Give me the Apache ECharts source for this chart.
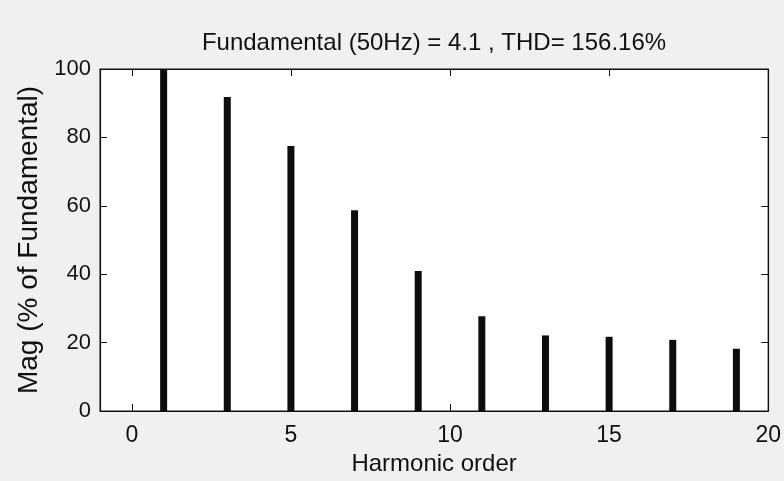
<!DOCTYPE html>
<html>
<head>
<meta charset="utf-8">
<script src="https://cdn.jsdelivr.net/npm/echarts@6/dist/echarts.min.js"></script>
<style>
  html, body { margin: 0; padding: 0; background: #f0f0f0; }
  #chart { width: 784px; height: 481px; }
</style>
</head>
<body>
<div id="chart"></div>
<script>
// harmonic spectrum, % of fundamental
const harmonicOrders = [1, 3, 5, 7, 9, 11, 13, 15, 17, 19]
const magnitudes = [100, 91.8, 77.5, 58.7, 40.9, 27.7, 22.1, 21.7, 20.8, 18.2]
const xTicks = [0, 5, 10, 15, 20]

const font = 'Liberation Sans, Arial, sans-serif'
const chart = echarts.init(document.getElementById('chart'))

const lineCol = '#111'

const boxAxis = (extra) => Object.assign({
  axisLine: { show: true, onZero: false, lineStyle: { color: lineCol, width: 1.2 } },
  axisTick: { show: true, inside: true, length: 7, lineStyle: { color: lineCol } },
  splitLine: { show: false }
}, extra)

const option = {
  backgroundColor: '#f0f0f0',
  animation: false,
  title: {
    text: 'Fundamental (50Hz) = 4.1 , THD= 156.16%',
    left: 429,
    textAlign: 'center',
    top: 26,
    textStyle: { fontFamily: font, fontSize: 24, fontWeight: 'normal', color: lineCol }
  },
  grid: {
    left: 100, right: 14, top: 69, bottom: 70,
    show: true, backgroundColor: '#fff', borderColor: lineCol, borderWidth: 1
  },
  xAxis: [
    boxAxis({
      type: 'value', min: -1, max: 20, position: 'bottom',
      name: 'Harmonic order', nameLocation: 'middle', nameGap: 39,
      nameTextStyle: { fontFamily: font, fontSize: 24, color: lineCol },
      axisTick: { show: true, inside: true, length: 7, customValues: xTicks, lineStyle: { color: lineCol } },
      axisLabel: { customValues: xTicks, fontFamily: font, fontSize: 23, color: lineCol, margin: 13 }
    }),
    boxAxis({
      type: 'value', min: -1, max: 20, position: 'top',
      axisTick: { show: true, inside: true, length: 7, customValues: xTicks, lineStyle: { color: lineCol } },
      axisLabel: { show: false, customValues: xTicks }
    })
  ],
  yAxis: [
    boxAxis({
      type: 'value', min: 0, max: 100, interval: 20, position: 'left',
      name: 'Mag (% of Fundamental)', nameLocation: 'middle', nameGap: 51,
      nameTextStyle: { fontFamily: font, fontSize: 28, color: lineCol },
      axisLabel: { fontFamily: font, fontSize: 22, color: lineCol, margin: 9 }
    }),
    boxAxis({
      type: 'value', min: 0, max: 100, interval: 20, position: 'right',
      axisLabel: { show: false }
    })
  ],
  series: [{
    type: 'bar',
    barWidth: 7,
    itemStyle: { color: '#0d0d0d' },
    data: harmonicOrders.map((h, i) => [h, magnitudes[i]])
  }]
}

chart.setOption(option)
</script>
</body>
</html>
